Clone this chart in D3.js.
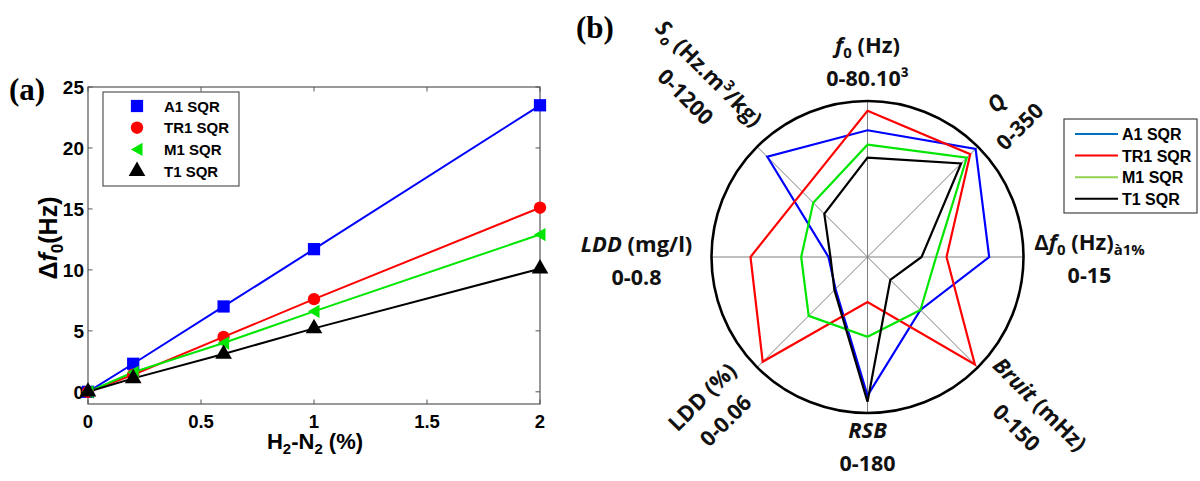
<!DOCTYPE html>
<html><head><meta charset="utf-8">
<script src="https://cdn.jsdelivr.net/npm/d3@7"></script>
<style>body{margin:0;background:#fff}svg{display:block}</style>
</head><body>
<svg id="c" width="1200" height="481"></svg>
<script>
// ---------- data: panel (a) ----------
const xValues = [0, 0.2, 0.6, 1, 2];
const seriesNames = ["A1 SQR", "TR1 SQR", "M1 SQR", "T1 SQR"];
const a1Shift  = [0, 2.3, 7.0, 11.7, 23.5];
const tr1Shift = [0, 1.4, 4.5, 7.6, 15.1];
const m1Shift  = [0, 1.6, 4.0, 6.6, 12.9];
const t1Shift  = [0, 1.1, 3.1, 5.2, 10.1];
const xTicks = [0, 0.5, 1, 1.5, 2];
const yTicks = [0, 5, 10, 15, 20, 25];

// ---------- data: panel (b) radar ----------
const radarAxes  = ["f0", "Q", "df0", "Bruit", "RSB", "LDD%", "LDDmg", "S0"];
const radarMax   = [80000, 350, 15, 150, 180, 0.06, 0.8, 1200];
const radarRange = ["0-80.10³", "0-350", "0-15", "0-150", "0-180", "0-0.06", "0-0.8", "0-1200"];
const radarTitles = [
  [["f","i"],["0","sub"],[" (Hz)",""]],
  [["Q","i"]],
  [["Δ",""],["f","i"],["0","sub"],[" (Hz)",""],["à1%","sub"]],
  [["Bruit","i"],[" (mHz)",""]],
  [["RSB","i"]],
  [["LDD (%)",""]],
  [["LDD","i"],[" (mg/l)",""]],
  [["S","i"],["o","isub"],[" (Hz.m",""],["3","sup"],["/kg)",""]]
];
const a1Radar  = [65000, 343, 11.7, 72, 160, 0.0174, 0.20, 1090];
const tr1Radar = [75000, 326, 7.6, 146, 52, 0.057, 0.60, 708];
const m1Radar  = [57600, 315, 6.6, 72, 92, 0.032, 0.34, 590];
const t1Radar  = [51000, 297, 5.2, 31, 167, 0.018, 0.19, 470];

const lineColors   = ["#0000ff", "#ff0000", "#00e600", "#000000"];
const radarLegendColors = ["#0070c0", "#ff0000", "#92d050", "#000000"];

const svg = d3.select("#c");

function addRich(textSel, parts, fs) {
  let shift = 0;
  parts.forEach(([t, st]) => {
    const ts = textSel.append("tspan").text(t);
    let target = 0, size = fs;
    if (st.endsWith("sub")) { target = fs * 0.24; size = fs * 0.68; }
    if (st === "sup") { target = -fs * 0.38; size = fs * 0.68; }
    if (st.startsWith("i")) ts.attr("font-style", "italic");
    ts.attr("font-size", size).attr("dy", target - shift);
    shift = target;
  });
}

// ================= panel (a) =================
const A = {l: 88, r: 540, t: 87, b: 404};
const x = d3.scaleLinear().domain([0, 2]).range([A.l, A.r]);
const y = d3.scaleLinear().domain([-1, 25]).range([A.b, A.t]);
const ga = svg.append("g");
const axisCol = "#555";

ga.append("rect").attr("x", A.l).attr("y", A.t).attr("width", A.r - A.l).attr("height", A.b - A.t)
  .attr("fill", "none").attr("stroke", axisCol).attr("stroke-width", 1.2);

const tl = 4.5;
xTicks.forEach(v => {
  ga.append("line").attr("x1", x(v)).attr("x2", x(v)).attr("y1", A.b).attr("y2", A.b - tl).attr("stroke", axisCol);
  ga.append("line").attr("x1", x(v)).attr("x2", x(v)).attr("y1", A.t).attr("y2", A.t + tl).attr("stroke", axisCol);
  ga.append("text").attr("x", x(v)).attr("y", 428).attr("text-anchor", "middle")
    .attr("font-family", "Liberation Sans, Arial").attr("font-weight", "bold").attr("font-size", 18.5).text(v);
});
yTicks.forEach(v => {
  ga.append("line").attr("x1", A.l).attr("x2", A.l + tl).attr("y1", y(v)).attr("y2", y(v)).attr("stroke", axisCol);
  ga.append("line").attr("x1", A.r).attr("x2", A.r - tl).attr("y1", y(v)).attr("y2", y(v)).attr("stroke", axisCol);
  ga.append("text").attr("x", 84).attr("y", y(v) + 7).attr("text-anchor", "end")
    .attr("font-family", "Liberation Sans, Arial").attr("font-weight", "bold").attr("font-size", 19).text(v);
});

// x label
const xl = ga.append("text").attr("x", 315).attr("y", 449).attr("text-anchor", "middle")
  .attr("font-family", "Liberation Sans, Arial").attr("font-weight", "bold");
addRich(xl, [["H",""],["2","sub"],["-N",""],["2","sub"],[" (%)",""]], 22);
// y label
const yl = ga.append("text").attr("transform", "translate(57,238) rotate(-90)").attr("text-anchor", "middle")
  .attr("font-family", "Liberation Sans, Arial").attr("font-weight", "bold");
addRich(yl, [["Δ",""],["f","i"],["0","sub"],["(Hz)",""]], 25);

// panel labels
svg.append("text").attr("x", 9).attr("y", 100).attr("font-family", "Liberation Serif, Times New Roman")
  .attr("font-weight", "bold").attr("font-size", 31).text("(a)");
svg.append("text").attr("x", 576).attr("y", 38).attr("font-family", "Liberation Serif, Times New Roman")
  .attr("font-weight", "bold").attr("font-size", 31).text("(b)");

const aSeries = [a1Shift, tr1Shift, m1Shift, t1Shift];
const line = d3.line().x((d, i) => x(xValues[i])).y(d => y(d));
const markerTypes = [d3.symbolSquare, d3.symbolCircle, "left", d3.symbolTriangle];
function markerPath(k, size) {
  if (markerTypes[k] === "left") {
    const s = size;
    return `M${-s*0.55},0L${s*0.5},${-s*0.6}L${s*0.5},${s*0.6}Z`;
  }
  const areas = [150, 120, 0, 120];
  return d3.symbol().type(markerTypes[k]).size(areas[k])();
}
aSeries.forEach((s, k) => {
  ga.append("path").datum(s).attr("d", line).attr("fill", "none").attr("stroke", lineColors[k]).attr("stroke-width", 2);
});
aSeries.forEach((s, k) => {
  ga.selectAll(null).data(s).enter().append("path")
    .attr("d", markerPath(k, 11))
    .attr("transform", (d, i) => `translate(${x(xValues[i])},${y(d)})`)
    .attr("fill", lineColors[k]);
});

// legend (a)
const lg = ga.append("g");
lg.append("rect").attr("x", 103).attr("y", 92).attr("width", 136).attr("height", 94)
  .attr("fill", "#fff").attr("stroke", axisCol).attr("stroke-width", 1.2);
seriesNames.forEach((n, k) => {
  const yy = 106 + k * 21.7;
  lg.append("path").attr("d", markerPath(k, 11)).attr("transform", `translate(137,${yy})`).attr("fill", lineColors[k]);
  lg.append("text").attr("x", 164).attr("y", yy + 5.5).attr("font-family", "Liberation Sans, Arial")
    .attr("font-weight", "bold").attr("font-size", 15).text(n);
});

// ================= panel (b) =================
const cx = 867.5, cy = 257, R = 156;
const gb = svg.append("g").attr("transform", `translate(${cx},${cy})`);
const scales = radarMax.map(m => d3.scaleLinear().domain([0, m]).range([0, R]));
const ang = i => i * Math.PI / 4;

radarAxes.forEach((a, i) => {
  gb.append("line").attr("x1", 0).attr("y1", 0)
    .attr("x2", R * Math.sin(ang(i))).attr("y2", -R * Math.cos(ang(i)))
    .attr("stroke", "#808080").attr("stroke-width", 1);
});
gb.append("circle").attr("r", R).attr("fill", "none").attr("stroke", "#000").attr("stroke-width", 2.6);

const rSeries = [a1Radar, tr1Radar, m1Radar, t1Radar];
const rl = d3.lineRadial().angle((d, i) => ang(i)).radius((d, i) => scales[i](d)).curve(d3.curveLinearClosed);
rSeries.forEach((s, k) => {
  gb.append("path").datum(s).attr("d", rl).attr("fill", "none")
    .attr("stroke", lineColors[k]).attr("stroke-width", 2.2).attr("stroke-linejoin", "miter");
});

// axis labels
const labelRadius = [194, 200, 222, 226, 191, 216, 231, 242];
const labelRot = [0, -45, 0, 45, 0, -45, 0, 45];
const labelDy = [0, 0, 3, 0, 0, 0, 5, 0];
radarAxes.forEach((a, i) => {
  const px = labelRadius[i] * Math.sin(ang(i)), py = -labelRadius[i] * Math.cos(ang(i)) + labelDy[i];
  const g = gb.append("g").attr("transform", `translate(${px},${py}) rotate(${labelRot[i]})`)
    .attr("font-family", "Open Sans, Noto Sans, sans-serif").attr("font-weight", "bold").attr("fill", "#111");
  const t1 = g.append("text").attr("x", 0).attr("y", -10).attr("text-anchor", "middle");
  addRich(t1, radarTitles[i], 22);
  g.append("text").attr("x", 0).attr("y", 23).attr("text-anchor", "middle").attr("font-size", 21.5).text(radarRange[i]);
});

// legend (b)
const lb = svg.append("g");
lb.append("rect").attr("x", 1064).attr("y", 119).attr("width", 133).attr("height", 94)
  .attr("fill", "#fff").attr("stroke", "#444").attr("stroke-width", 1.2);
seriesNames.forEach((n, k) => {
  const yy = 134 + k * 21.6;
  lb.append("line").attr("x1", 1075).attr("x2", 1118).attr("y1", yy).attr("y2", yy)
    .attr("stroke", radarLegendColors[k]).attr("stroke-width", 2);
  lb.append("text").attr("x", 1122).attr("y", yy + 6).attr("font-family", "Liberation Sans, Arial")
    .attr("font-weight", "bold").attr("font-size", 16).text(n);
});
</script>
</body></html>
